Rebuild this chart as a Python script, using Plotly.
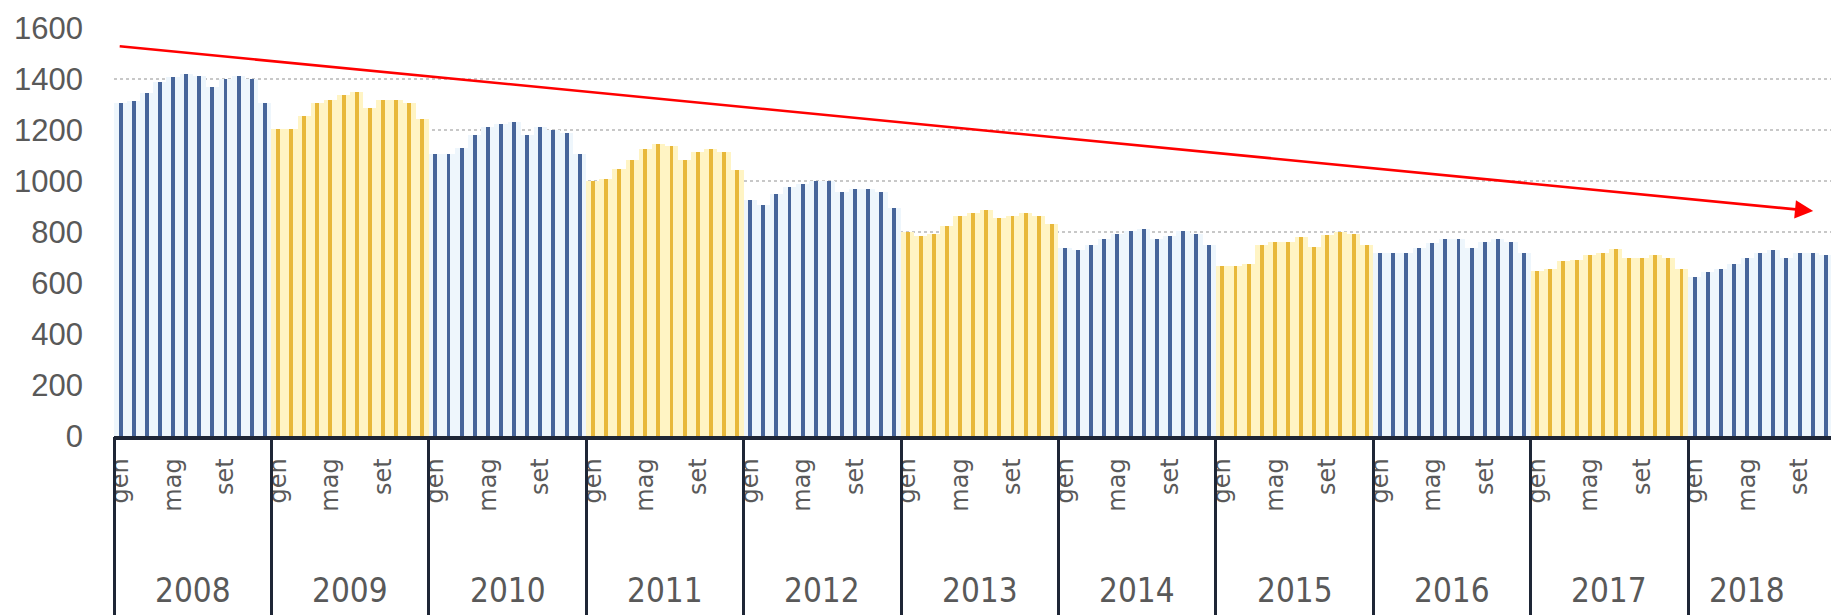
import plotly.graph_objects as go

# ---------------- data ----------------
years = [2008, 2009, 2010, 2011, 2012, 2013, 2014, 2015, 2016, 2017, 2018]
months = ["gen", "feb", "mar", "apr", "mag", "giu", "lug", "ago", "set", "ott", "nov", "dic"]
shown_months = ["gen", "mag", "set"]

v2008 = [1305, 1315, 1345, 1388, 1408, 1418, 1410, 1368, 1400, 1410, 1400, 1305]
v2009 = [1204, 1204, 1253, 1307, 1317, 1339, 1348, 1288, 1317, 1317, 1307, 1243]
v2010 = [1107, 1107, 1129, 1181, 1210, 1222, 1232, 1181, 1210, 1201, 1190, 1105]
v2011 = [1000, 1009, 1046, 1082, 1124, 1147, 1137, 1082, 1114, 1124, 1114, 1043]
v2012 = [926, 905, 948, 978, 990, 1000, 1000, 957, 968, 968, 957, 896]
v2013 = [801, 783, 792, 822, 864, 874, 886, 854, 864, 874, 864, 831]
v2014 = [739, 728, 750, 771, 792, 803, 813, 771, 783, 803, 792, 750]
v2015 = [667, 667, 676, 750, 761, 761, 780, 741, 790, 800, 792, 750]
v2016 = [718, 718, 718, 739, 758, 771, 771, 739, 761, 771, 761, 718]
v2017 = [646, 656, 685, 689, 708, 719, 732, 698, 698, 708, 698, 654]
v2018 = [624, 643, 656, 676, 698, 719, 731, 698, 719, 719, 708, 685]
yearly_values = [v2008, v2009, v2010, v2011, v2012, v2013, v2014, v2015, v2016, v2017, v2018]

y_ticks = [0, 200, 400, 600, 800, 1000, 1200, 1400, 1600]

# trend arrow
trend_start = 1529
trend_end = 882

# ---------------- styles ----------------
BLUE = "#47659A"
YELLOW = "#E8B83A"
BLUE_TINT = "#EEF6FC"
YELLOW_TINT = "#FFF4C4"
AXIS_DARK = "#1E2636"
LABEL_GRAY = "#595959"

n_m = len(months)
xs, ys, core_cols, tint_cols = [], [], [], []
for yi, vals in enumerate(yearly_values):
    for m, v in enumerate(vals):
        xs.append(yi * n_m + m)
        ys.append(v)
        core_cols.append(BLUE if yi % 2 == 0 else YELLOW)
        tint_cols.append(BLUE_TINT if yi % 2 == 0 else YELLOW_TINT)

month_tickvals, month_ticktext = [], []
for yi, _ in enumerate(years):
    for name in shown_months:
        month_tickvals.append(yi * n_m + months.index(name))
        month_ticktext.append(name)

boundaries = [yi * n_m - 0.5 for yi in range(len(years))]

fig = go.Figure()
fig.add_trace(go.Bar(x=xs, y=ys, width=1.0, marker=dict(color=tint_cols, line=dict(width=0)),
                     hoverinfo="skip", showlegend=False))
fig.add_trace(go.Bar(x=xs, y=ys, width=0.3, marker=dict(color=core_cols, line=dict(width=0)),
                     showlegend=False))
# invisible helper trace for the divider axis
fig.add_trace(go.Scatter(x=boundaries, y=[0] * len(boundaries), xaxis="x2", mode="markers",
                         marker=dict(opacity=0), hoverinfo="skip", showlegend=False))

# page body has an 8px default margin -> figure is 8px smaller and offsets compensated
W, H = 1831, 607
L, R, T, B = 106, 0, 20, 179
slot_px = 13.117
x_hi = -0.5 + (W - L - R) / slot_px
xr = [-0.5, x_hi]

fig.update_layout(
    width=W, height=H,
    margin=dict(l=L, r=R, t=T, b=B, pad=0, autoexpand=False),
    paper_bgcolor="white", plot_bgcolor="white",
    barmode="overlay", bargap=0,
    xaxis=dict(range=xr, tickmode="array", tickvals=month_tickvals, ticktext=month_ticktext,
               tickangle=-90, ticks="", showgrid=False, zeroline=False, automargin=False,
               showline=True, linecolor=AXIS_DARK, linewidth=3.5,
               tickfont=dict(family="DejaVu Sans", size=24, color=LABEL_GRAY),
               ticklabelstandoff=9),
    xaxis2=dict(range=xr, overlaying="x", anchor="y", side="bottom", tickmode="array",
                tickvals=boundaries, ticks="outside", ticklen=185, tickwidth=3, automargin=False,
                tickcolor=AXIS_DARK, showticklabels=False, showgrid=False, zeroline=False,
                showline=False),
    yaxis=dict(range=[0, 1600], tickmode="array", tickvals=y_ticks, ticks="", automargin=False,
               showgrid=True, gridcolor="#C8C8C8", griddash="dot", gridwidth=1.5,
               zeroline=False, showline=False,
               tickfont=dict(family="Liberation Sans", size=31, color=LABEL_GRAY),
               ticklabelstandoff=30),
)

plot_h = H - T - B
year_y = -(582 - (H - B)) / plot_h
for yi, yr in enumerate(years):
    fig.add_annotation(x=yi * n_m + (n_m - 1) / 2, y=year_y, xref="x", yref="paper",
                       text=str(yr), showarrow=False, yanchor="middle",
                       xshift=-20 if yi == len(years) - 1 else 0,
                       font=dict(family="Liberation Sans Narrow, DejaVu Sans Condensed, Liberation Sans",
                                 size=33, color=LABEL_GRAY))

# red trend arrow
fig.add_annotation(x=129.04, y=trend_end, ax=-0.18, ay=trend_start,
                   xref="x", yref="y", axref="x", ayref="y",
                   text="", showarrow=True, arrowhead=2, arrowsize=1.4,
                   arrowwidth=2.6, arrowcolor="#FF0000", standoff=0)

fig.write_html("out.html")
